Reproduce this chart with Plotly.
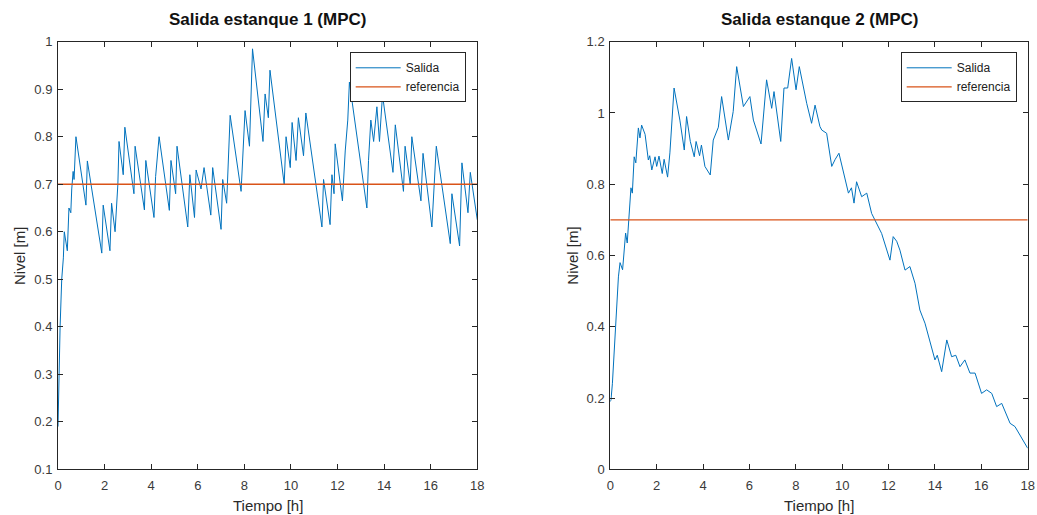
import plotly.graph_objects as go

# ---------------- data ----------------
t1 = [0, 0.04, 0.09, 0.16, 0.23, 0.27, 0.40, 0.47, 0.55, 0.59, 0.65, 0.69, 0.77,
      1.20, 1.26, 1.88, 1.94, 2.23, 2.30, 2.45, 2.57, 2.62, 2.80, 2.87, 3.26, 3.31,
      3.71, 3.77, 4.12, 4.19, 4.34, 4.78, 4.85, 5.05, 5.11, 5.57, 5.66, 5.86, 5.93,
      6.14, 6.27, 6.56, 6.64, 7.00, 7.07, 7.24, 7.39, 7.86, 8.03, 8.22, 8.35, 8.80,
      8.89, 9.03, 9.10, 9.71, 9.79, 9.97, 10.05, 10.22, 10.32, 10.54, 10.64, 11.33,
      11.40, 11.68, 11.76, 11.85, 11.90, 12.21, 12.33, 12.44, 12.51, 13.26, 13.33,
      13.43, 13.55, 13.69, 13.80, 13.93, 14.38, 14.48, 14.83, 14.90, 15.12, 15.19,
      15.58, 15.67, 16.05, 16.24, 16.84, 16.91, 17.24, 17.34, 17.60, 17.70, 18.0]
y1 = [0.19, 0.30, 0.40, 0.50, 0.545, 0.60, 0.56, 0.65, 0.64, 0.69, 0.727, 0.71, 0.80,
      0.656, 0.749, 0.555, 0.656, 0.56, 0.66, 0.60, 0.70, 0.79, 0.72, 0.82, 0.68, 0.78,
      0.646, 0.75, 0.63, 0.716, 0.80, 0.645, 0.75, 0.68, 0.78, 0.61, 0.72, 0.63, 0.73,
      0.69, 0.735, 0.635, 0.735, 0.605, 0.71, 0.66, 0.845, 0.685, 0.855, 0.78, 0.985, 0.79,
      0.89, 0.84, 0.94, 0.70, 0.80, 0.735, 0.83, 0.75, 0.84, 0.76, 0.85, 0.61,
      0.71, 0.615, 0.72, 0.68, 0.785, 0.665, 0.77, 0.835, 0.915, 0.65, 0.75,
      0.835, 0.79, 0.863, 0.79, 0.888, 0.725, 0.825, 0.685, 0.78, 0.70, 0.80,
      0.665, 0.765, 0.61, 0.78, 0.575, 0.68, 0.57, 0.745, 0.64, 0.725, 0.625]

t2 = [0, 0.03, 0.09, 0.17, 0.27, 0.35, 0.42, 0.53, 0.59, 0.66, 0.73, 0.82, 0.89, 0.95,
      1.03, 1.10, 1.21, 1.28, 1.35, 1.50, 1.64, 1.70, 1.79, 1.93, 2.00, 2.10, 2.24,
      2.32, 2.47, 2.57, 2.75, 3.00, 3.19, 3.29, 3.45, 3.62, 3.70, 3.85, 3.93, 4.08,
      4.31, 4.44, 4.66, 4.80, 5.09, 5.30, 5.45, 5.74, 6.02, 6.17, 6.50, 6.74, 6.96,
      7.06, 7.35, 7.49, 7.65, 7.82, 8.01, 8.15, 8.47, 8.68, 8.83, 9.04, 9.12, 9.33,
      9.55, 9.70, 9.86, 10.27, 10.40, 10.51, 10.62, 10.84, 11.06, 11.27, 11.49, 11.70,
      12.06, 12.20, 12.35, 12.49, 12.71, 12.92, 13.14, 13.35, 13.45, 13.57, 14.0, 14.1,
      14.29, 14.51, 14.72, 14.90, 15.08, 15.29, 15.51, 15.73, 16.01, 16.23, 16.45,
      16.66, 16.88, 17.24, 17.45, 18.0]
y2 = [0.19, 0.195, 0.24, 0.344, 0.456, 0.54, 0.58, 0.56, 0.607, 0.663, 0.635, 0.737, 0.79,
      0.775, 0.877, 0.86, 0.958, 0.93, 0.966, 0.94, 0.868, 0.88, 0.84, 0.877, 0.85, 0.879,
      0.83, 0.87, 0.82, 0.888, 1.07, 0.98, 0.896, 0.99, 0.92, 0.877, 0.92, 0.88, 0.91,
      0.85, 0.826, 0.924, 0.96, 1.046, 0.924, 1.004, 1.13, 1.018, 1.046, 0.98, 0.913,
      1.093, 1.013, 1.06, 0.92, 1.07, 1.07, 1.153, 1.065, 1.13, 1.027, 0.971, 1.022,
      0.962, 0.952, 0.943, 0.85, 0.87, 0.887, 0.775, 0.79, 0.747, 0.807, 0.765, 0.775,
      0.718, 0.69, 0.662, 0.587, 0.653, 0.64, 0.615, 0.559, 0.569, 0.522, 0.447, 0.43,
      0.41, 0.307, 0.32, 0.274, 0.363, 0.316, 0.32, 0.288, 0.307, 0.27, 0.27, 0.213,
      0.223, 0.213, 0.176, 0.185, 0.129, 0.12, 0.059]

ref_level = 0.7
t_ref = [0, 18]

x_ticks = [0, 2, 4, 6, 8, 10, 12, 14, 16, 18]
y1_ticks = [0.1, 0.2, 0.3, 0.4, 0.5, 0.6, 0.7, 0.8, 0.9, 1.0]
y1_ticktext = ["0.1", "0.2", "0.3", "0.4", "0.5", "0.6", "0.7", "0.8", "0.9", "1"]
y2_ticks = [0, 0.2, 0.4, 0.6, 0.8, 1.0, 1.2]
y2_ticktext = ["0", "0.2", "0.4", "0.6", "0.8", "1", "1.2"]

titles = ["Salida estanque 1 (MPC)", "Salida estanque 2 (MPC)"]
x_label = "Tiempo [h]"
y_label = "Nivel [m]"
series_names = ["Salida", "referencia"]

# ---------------- figure ----------------
W, H = 1037, 515
BLUE = "#0072BD"
ORANGE = "#D95319"
AX = "#262626"
FONT = "Liberation Sans, Arial, Helvetica, sans-serif"

fig = go.Figure()
fig.add_trace(go.Scatter(x=t1, y=y1, mode="lines", name=series_names[0],
                         line=dict(color=BLUE, width=1), xaxis="x", yaxis="y", legend="legend"))
fig.add_trace(go.Scatter(x=t_ref, y=[ref_level, ref_level], mode="lines", name=series_names[1],
                         line=dict(color=ORANGE, width=1.3), xaxis="x", yaxis="y", legend="legend"))
fig.add_trace(go.Scatter(x=t2, y=y2, mode="lines", name=series_names[0],
                         line=dict(color=BLUE, width=1), xaxis="x2", yaxis="y2", legend="legend2"))
fig.add_trace(go.Scatter(x=t_ref, y=[ref_level, ref_level], mode="lines", name=series_names[1],
                         line=dict(color=ORANGE, width=1.3), xaxis="x2", yaxis="y2", legend="legend2"))

px_l1, px_r1 = 58, 477.3
px_l2, px_r2 = 610.3, 1027.7
py_t, py_b = 41.7, 469.3

ax_common = dict(showline=True, linecolor=AX, linewidth=1, mirror="ticks", ticks="inside",
                 ticklen=5, tickcolor=AX, tickwidth=1, showgrid=False, zeroline=False,
                 tickfont=dict(family=FONT, size=13, color="#3a3a3a"), fixedrange=True,
                 automargin=False)

ydom = [1 - py_b / H, 1 - py_t / H]
fig.update_layout(
    width=W, height=H,
    margin=dict(l=0, r=0, t=0, b=0),
    paper_bgcolor="white", plot_bgcolor="white",
    font=dict(family=FONT, color=AX),
    xaxis=dict(domain=[px_l1 / W, px_r1 / W], range=[0, 18], tickmode="array",
               tickvals=x_ticks, anchor="y", ticklabelstandoff=4, **ax_common),
    yaxis=dict(domain=ydom, range=[0.1, 1.0], tickmode="array", tickvals=y1_ticks,
               ticktext=y1_ticktext, anchor="x", ticklabelstandoff=2, **ax_common),
    xaxis2=dict(domain=[px_l2 / W, px_r2 / W], range=[0, 18], tickmode="array",
                tickvals=x_ticks, anchor="y2", ticklabelstandoff=4, **ax_common),
    yaxis2=dict(domain=ydom, range=[0, 1.2], tickmode="array", tickvals=y2_ticks,
                ticktext=y2_ticktext, anchor="x2", ticklabelstandoff=2, **ax_common),
    legend=dict(x=465.7 / W, y=1 - 52.3 / H, xanchor="right", yanchor="top",
                bgcolor="white", bordercolor=AX, borderwidth=1, itemwidth=45,
                font=dict(family=FONT, size=12, color="#222"), tracegroupgap=0),
    legend2=dict(x=1016.7 / W, y=1 - 52.3 / H, xanchor="right", yanchor="top",
                 bgcolor="white", bordercolor=AX, borderwidth=1, itemwidth=45,
                 font=dict(family=FONT, size=12, color="#222"), tracegroupgap=0),
    showlegend=True,
)

annotations = []
for cx, title in [((px_l1 + px_r1) / 2, titles[0]), ((px_l2 + px_r2) / 2, titles[1])]:
    annotations.append(dict(x=cx / W, y=1 - 19 / H, xref="paper", yref="paper",
                            text="<b>" + title + "</b>", showarrow=False,
                            xanchor="center", yanchor="middle",
                            font=dict(family=FONT, size=17, color="#111")))
    annotations.append(dict(x=cx / W, y=1 - 505 / H, xref="paper", yref="paper",
                            text=x_label, showarrow=False, xanchor="center", yanchor="middle",
                            font=dict(family=FONT, size=15, color="#2a2a2a")))
for lx in [19, 571.7]:
    annotations.append(dict(x=lx / W, y=1 - 256 / H, xref="paper", yref="paper",
                            text=y_label, showarrow=False, textangle=-90,
                            xanchor="center", yanchor="middle",
                            font=dict(family=FONT, size=15, color="#2a2a2a")))
fig.update_layout(annotations=annotations)

fig.write_html("out.html", config={"displayModeBar": False},
               post_script="document.body.style.margin='0px';document.body.style.overflow='hidden';")
